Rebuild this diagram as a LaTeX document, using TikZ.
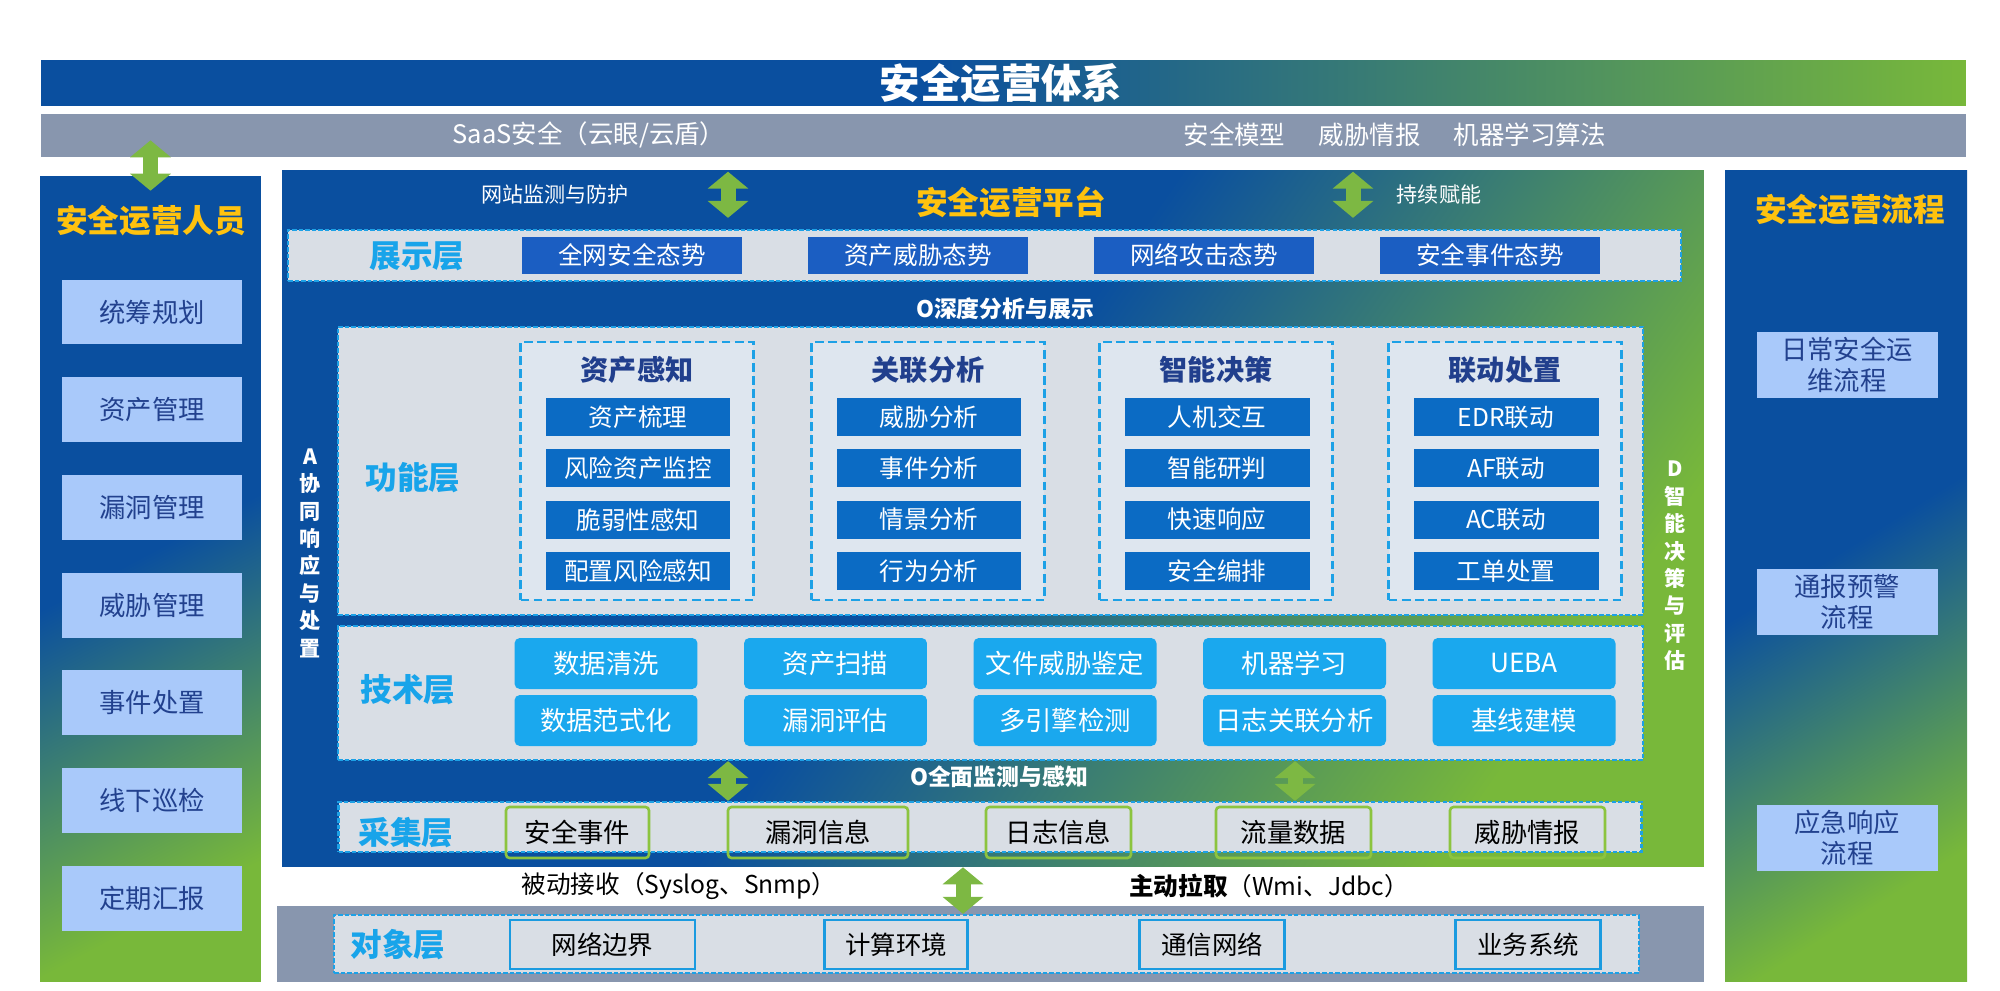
\documentclass[tikz,border=0pt]{standalone}
\usepackage{fontspec}
\setmainfont{Noto Sans CJK SC}
\usetikzlibrary{arrows.meta,positioning}
\definecolor{opsblue}{HTML}{0A4F9F}
\definecolor{opsgreen}{HTML}{78B83A}
\definecolor{saasgrey}{HTML}{8896AE}
\definecolor{bandgrey}{HTML}{D9DEE5}
\definecolor{grpgrey}{HTML}{DEE6EF}
\definecolor{dashblue}{HTML}{1DA1E6}
\definecolor{lblblue}{HTML}{18A4EA}
\definecolor{showblue}{HTML}{1B5EC2}
\definecolor{itemblue}{HTML}{0B6BC4}
\definecolor{techblue}{HTML}{1AA8EE}
\definecolor{navytxt}{HTML}{213F8D}
\definecolor{opsgold}{HTML}{FFC20E}
\definecolor{pplblue}{HTML}{A9C9FA}
\definecolor{ppltxt}{HTML}{22418E}
\definecolor{collgreen}{HTML}{8CC43F}
\definecolor{objblue}{HTML}{1B9BE0}
\definecolor{arrowgreen}{HTML}{7DB843}
\pgfdeclarehorizontalshading{opsfade}{100bp}{color(0bp)=(opsblue); color(25bp)=(opsblue); color(48bp)=(opsblue); color(75bp)=(opsgreen); color(100bp)=(opsgreen)}
\newcommand{\fsz}[1]{\fontsize{#1}{#1}\selectfont}
\tikzset{
  panelbox/.style={shade, shading=opsfade, inner sep=0pt, draw=none},
  layerband/.style={fill=bandgrey, draw=dashblue, dash pattern=on 2.5pt off 1.2pt, line width=1.3pt, inner sep=0pt},
  grpbox/.style={fill=grpgrey, draw=dashblue, dash pattern=on 5pt off 2.5pt, line width=1.6pt, inner sep=0pt, minimum width=4.66cm, minimum height=5.16cm},
  layerlbl/.style={text=lblblue, font=\fsz{18}\bfseries},
  showbox/.style={fill=showblue, text=white, font=\fsz{14}, minimum width=4.4cm, minimum height=0.74cm, inner sep=0pt},
  itembox/.style={fill=itemblue, text=white, font=\fsz{14}, minimum width=3.7cm, minimum height=0.76cm, inner sep=0pt},
  techbox/.style={fill=techblue, text=white, font=\fsz{15}, rounded corners=3pt, minimum width=3.66cm, minimum height=1.02cm, inner sep=0pt},
  collbox/.style={draw=collgreen, line width=1.5pt, rounded corners=2pt, font=\fsz{15}, minimum height=1.02cm, inner sep=0pt},
  objbox/.style={draw=objblue, fill=bandgrey, line width=1.5pt, font=\fsz{14.5}, minimum height=0.98cm, inner sep=0pt},
  pplbox/.style={fill=pplblue, text=ppltxt, font=\fsz{15}, minimum width=3.6cm, minimum height=1.3cm, inner sep=0pt},
  flowbox/.style={fill=pplblue, text=ppltxt, font=\fontsize{15}{18}\selectfont, align=center, minimum width=3.62cm, minimum height=1.32cm, inner sep=0pt},
  goldtitle/.style={text=opsgold, font=\fsz{18}\bfseries},
  whitelbl/.style={text=white, font=\fsz{12}},
  garrow/.style={draw=arrowgreen, line width=0.3cm, {Triangle[width=0.8cm,length=0.34cm]}-{Triangle[width=0.8cm,length=0.34cm]}}
}
\begin{document}
\begin{tikzpicture}[x=0.02cm, y=-0.02cm]
\useasboundingbox (0,0) rectangle (2000,990);
\fill[white] (0,0) rectangle (2000,990);

% ---- Top bars ----
\node[panelbox, shading angle=0, minimum width=38.5cm, minimum height=0.92cm] (titlebar) at (1003.5,83) {};
\node[text=white, font=\fsz{23}\bfseries] (title) at (1001,83) {安全运营体系};
\node[fill=saasgrey, inner sep=0pt, minimum width=38.5cm, minimum height=0.86cm] (saas) at (1003.5,135.5) {};
\node[text=white, font=\fsz{14.5}] (saasTxt) at (589,135) {SaaS安全（云眼/云盾）};
\node[text=white, font=\fsz{14.5}] (modelTxt) at (1395,135) {安全模型\hspace{1.3em}威胁情报\hspace{1.3em}机器学习算法};

% ---- Side panels ----
\node[panelbox, shading angle=-62, minimum width=4.42cm, minimum height=16.12cm] (pplpanel) at (150.5,579) {};
\node[goldtitle] (pplTitle) at (151,221) {安全运营人员};
\foreach \txt [count=\i] in {统筹规划,资产管理,漏洞管理,威胁管理,事件处置,线下巡检,定期汇报}
  \node[pplbox] (ppl\i) at (152,214.3+97.7*\i) {\txt};

\node[panelbox, shading angle=-58, minimum width=4.84cm, minimum height=16.24cm] (flowpanel) at (1846,576) {};
\node[goldtitle] (flowTitle) at (1850,210) {安全运营流程};
\node[flowbox] (flow1) at (1847,365) {日常安全运\\维流程};
\node[flowbox] (flow2) at (1847,602) {通报预警\\流程};
\node[flowbox] (flow3) at (1847,838) {应急响应\\流程};

% ---- Platform ----
\node[panelbox, shading angle=-35, minimum width=28.44cm, minimum height=13.94cm] (platform) at (993,518.5) {};
\node[whitelbl] (webTxt) at (555,194) {网站监测与防护};
\node[goldtitle] (platTitle) at (1011,202) {安全运营平台};
\node[whitelbl] (enableTxt) at (1439,194) {持续赋能};

% show layer
\node[layerband, minimum width=27.86cm, minimum height=1.02cm] (show) at (984.5,255.5) {};
\node[layerlbl] (showLbl) at (417,256) {展示层};
\foreach \txt [count=\i] in {全网安全态势,资产威胁态势,网络攻击态势,安全事件态势}
  \node[showbox] (show\i) at (346+286*\i,255.5) {\txt};
\node[text=white, font=\fsz{13}\bfseries] (deepTxt) at (1005,309) {O深度分析与展示};

% function layer
\node[layerband, minimum width=26.1cm, minimum height=5.76cm] (func) at (990.5,471) {};
\node[layerlbl] (funcLbl) at (413,478) {功能层};
\foreach \gx/\gt/\items [count=\g] in {637/资产感知/{资产梳理,风险资产监控,脆弱性感知,配置风险感知},
    928/关联分析/{威胁分析,事件分析,情景分析,行为分析},
    1216/智能决策/{人机交互,智能研判,快速响应,安全编排},
    1505/联动处置/{EDR联动,AF联动,AC联动,工单处置}} {
  \node[grpbox] (grp\g) at (\gx,471) {};
  \node[text=navytxt, font=\fsz{16}\bfseries] (grpTitle\g) at (\gx,370) {\gt};
  \foreach \it [count=\j] in \items
    \node[itembox] (item\g\j) at (\gx+1,365.7+51.3*\j) {\it};
}

% side texts
\node[text=white, font=\fontsize{12}{15.6}\selectfont\bfseries, align=center] (vertA) at (310,553) {A\\协\\同\\响\\应\\与\\处\\置};
\node[text=white, font=\fontsize{12}{15.6}\selectfont\bfseries, align=center] (vertD) at (1675,566) {D\\智\\能\\决\\策\\与\\评\\估};

% tech layer
\node[layerband, minimum width=26.1cm, minimum height=2.68cm] (tech) at (990.5,693) {};
\node[layerlbl] (techLbl) at (408,690) {技术层};
\foreach \ta/\tb [count=\i] in {数据清洗/数据范式化,资产扫描/漏洞评估,文件威胁鉴定/多引擎检测,机器学习/日志关联分析,UEBA/基线建模} {
  \node[techbox] (techA\i) at (376.5+229.5*\i,663.5) {\ta};
  \node[techbox] (techB\i) at (376.5+229.5*\i,720.5) {\tb};
}
\node[text=white, font=\fsz{13}\bfseries] (fullTxt) at (999,777) {O全面监测与感知};

% collection layer
\node[layerband, minimum width=26.06cm, minimum height=1.0cm] (coll) at (990,827) {};
\node[layerlbl] (collLbl) at (406,833) {采集层};
\node[collbox, minimum width=2.86cm] (coll1) at (577.5,832.5) {安全事件};
\node[collbox, minimum width=3.6cm] (coll2) at (818,832.5) {漏洞信息};
\node[collbox, minimum width=2.9cm] (coll3) at (1058.5,832.5) {日志信息};
\node[collbox, minimum width=3.1cm] (coll4) at (1293.5,832.5) {流量数据};
\node[collbox, minimum width=3.1cm] (coll5) at (1527.5,832.5) {威胁情报};

% ---- Object layer ----
\node[text=black, font=\fsz{14}] (passiveTxt) at (679,886) {被动接收（Syslog、Snmp）};
\node[text=black, font=\fsz{14}] (activeTxt) at (1269,886) {\textbf{主动拉取}（Wmi、Jdbc）};
\node[fill=saasgrey, inner sep=0pt, minimum width=28.54cm, minimum height=1.52cm] (objbar) at (990.5,944) {};
\node[layerband, minimum width=26.1cm, minimum height=1.16cm] (objband) at (986.5,944) {};
\node[layerlbl] (objLbl) at (398,945) {对象层};
\node[objbox, minimum width=3.7cm] (obj1) at (602.5,944.5) {网络边界};
\node[objbox, minimum width=2.86cm] (obj2) at (896,944.5) {计算环境};
\node[objbox, minimum width=2.9cm] (obj3) at (1212,944.5) {通信网络};
\node[objbox, minimum width=2.9cm] (obj4) at (1528,944.5) {业务系统};

% ---- Arrows ----
\coordinate (axL) at (728,0);
\coordinate (axR) at (1353,0);
\coordinate (axT) at (1295,0);
\coordinate (axM) at (963,0);
\draw[garrow, shorten <=-0.34cm, shorten >=-0.3cm] (saas.south -| pplpanel) -- (pplpanel.north);
\draw[garrow, shorten <=0.04cm, shorten >=0.22cm] (platform.north -| axL) -- (show.north -| axL);
\draw[garrow, shorten <=0.04cm, shorten >=0.22cm] (platform.north -| axR) -- (show.north -| axR);
\draw[garrow] (tech.south -| axL) -- (coll.north -| axL);
\draw[garrow] (tech.south -| axT) -- (coll.north -| axT);
\draw[garrow] (platform.south -| axM) -- (objband.north -| axM);
\end{tikzpicture}
\end{document}
